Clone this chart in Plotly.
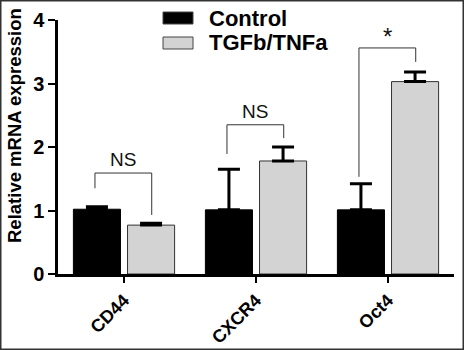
import plotly.graph_objects as go

categories = ["CD44", "CXCR4", "Oct4"]
control_mean = [1.02, 1.01, 1.01]
control_err = [0.04, 0.64, 0.41]
treated_mean = [0.77, 1.78, 3.03]
treated_err = [0.03, 0.22, 0.15]
series_names = ["Control", "TGFb/TNFa"]
y_ticks = [0, 1, 2, 3, 4]

# significance brackets: label, left-leg bottom, top, right-leg bottom
sig_labels = ["NS", "NS", "*"]
sig_left = [1.35, 1.89, 1.53]
sig_top = [1.59, 2.35, 3.56]
sig_right = [0.93, 2.14, 3.34]

FONT = "Liberation Sans, Arial, sans-serif"

fig = go.Figure()
fig.add_trace(go.Bar(
    x=list(range(len(categories))), y=control_mean, name=series_names[0],
    marker=dict(color="#000000", line=dict(color="#000000", width=1)),
    error_y=dict(type="data", array=control_err, arrayminus=[0]*3, symmetric=False,
                 color="#000000", thickness=3, width=11),
    showlegend=False,
))
fig.add_trace(go.Bar(
    x=list(range(len(categories))), y=treated_mean, name=series_names[1],
    marker=dict(color="#d3d3d3", line=dict(color="#333333", width=1)),
    error_y=dict(type="data", array=treated_err, arrayminus=[0]*3, symmetric=False,
                 color="#000000", thickness=3, width=11),
    showlegend=False,
))

shapes = []
annotations = []
lo, ro = -0.22, 0.21
for i, lab in enumerate(sig_labels):
    xl, xr = i + lo, i + ro
    shapes.append(dict(type="path",
                       path=f"M {xl} {sig_left[i]} L {xl} {sig_top[i]} L {xr} {sig_top[i]} L {xr} {sig_right[i]}",
                       xref="x", yref="y", line=dict(color="#333333", width=1)))
    annotations.append(dict(x=(xl + xr) / 2, y=sig_top[i], xref="x", yref="y",
                            text=lab, showarrow=False, yanchor="bottom",
                            yshift=1 if lab == "NS" else -4,
                            font=dict(family=FONT, size=19 if lab == "NS" else 24, color="#111111")))

# plot area: x 58..454, y 20..274 px
PW, PH = 396.0, 254.0
def px(x):
    return (x - 58) / PW
def py(y):
    return (274 - y) / PH

# legend drawn manually
leg_colors = ["#000000", "#d3d3d3"]
leg_y = [12, 37]
for i, name in enumerate(series_names):
    shapes.append(dict(type="rect", xref="paper", yref="paper",
                       x0=px(163), x1=px(193), y0=py(leg_y[i] + 12), y1=py(leg_y[i]),
                       fillcolor=leg_colors[i], line=dict(color="#444444", width=1)))
    annotations.append(dict(x=px(207), y=py(leg_y[i] + 6), xref="paper", yref="paper",
                            text=f"<b>{name}</b>", showarrow=False, xanchor="left", yanchor="middle",
                            font=dict(family=FONT, size=22, color="#000000")))

# y title
annotations.append(dict(x=px(14), y=py(126), xref="paper", yref="paper",
                        text="<b>Relative mRNA expression</b>", showarrow=False, textangle=-90,
                        xanchor="center", yanchor="middle",
                        font=dict(family=FONT, size=18.5, color="#000000")))

# outer border
shapes.append(dict(type="rect", xref="paper", yref="paper",
                   x0=px(0.75), x1=px(463.25), y0=py(349.25), y1=py(0.75),
                   line=dict(color="#333333", width=1.5), fillcolor="rgba(0,0,0,0)"))

fig.update_layout(
    width=464, height=350,
    margin=dict(l=58, r=10, t=20, b=76, autoexpand=False),
    paper_bgcolor="white", plot_bgcolor="white",
    barmode="group", bargap=0.18, bargroupgap=0.13,
    shapes=shapes, annotations=annotations,
    font=dict(family=FONT, color="#000000"),
    xaxis=dict(range=[-0.5, 2.5], tickmode="array", tickvals=list(range(len(categories))),
               ticktext=[f"<b>{c}</b>" for c in categories], tickangle=-45,
               tickfont=dict(family=FONT, size=18, color="#000000"),
               showline=True, linecolor="#000000", linewidth=2.5,
               ticks="outside", ticklen=6, tickwidth=2, tickcolor="#000000",
               showgrid=False, zeroline=False, fixedrange=True, automargin=False),
    yaxis=dict(range=[0, 4], tickmode="array", tickvals=y_ticks,
               ticktext=[f"<b>{t}</b>" for t in y_ticks],
               tickfont=dict(family=FONT, size=20, color="#000000"),
               showline=True, linecolor="#000000", linewidth=2.5,
               ticks="outside", ticklen=7, tickwidth=2, tickcolor="#000000",
               showgrid=False, zeroline=False, fixedrange=True, automargin=False),
)

fig.write_html("out.html")
